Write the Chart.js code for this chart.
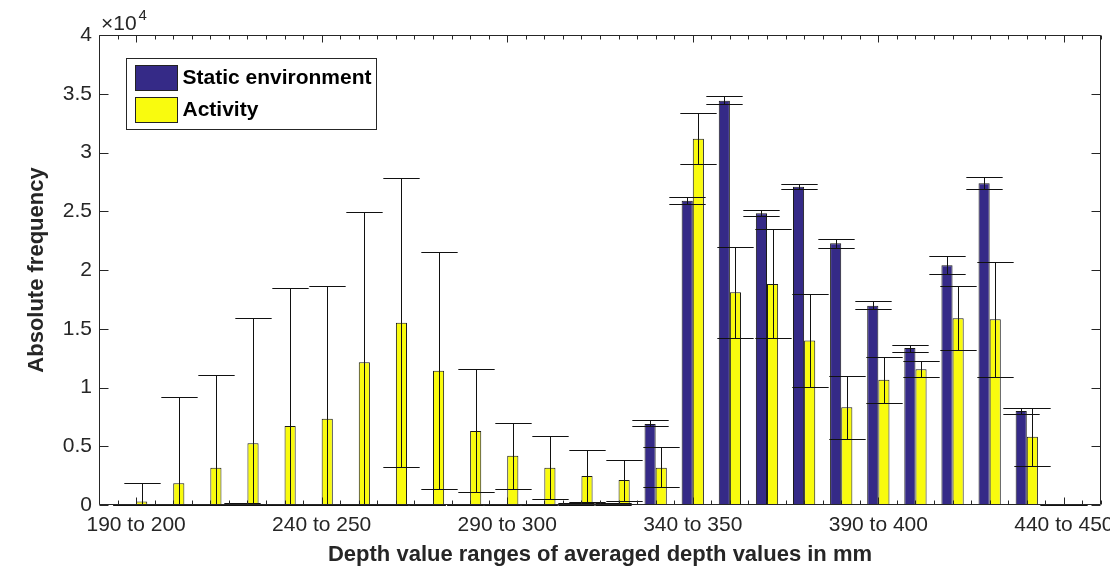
<!DOCTYPE html>
<html>
<head>
<meta charset="utf-8">
<script src="https://cdn.jsdelivr.net/npm/chart.js@4.4.1/dist/chart.umd.min.js"></script>
<style>
  html, body { margin: 0; padding: 0; background: #fff; }
  #wrap { width: 1110px; height: 569px; }
</style>
</head>
<body>
<div id="wrap"><canvas id="depthChart" width="1110" height="569"></canvas></div>
<script>
const categories = [
    '190 to 200', '200 to 210', '210 to 220', '220 to 230', '230 to 240', '240 to 250',
    '250 to 260', '260 to 270', '270 to 280', '280 to 290', '290 to 300', '300 to 310',
    '310 to 320', '320 to 330', '330 to 340', '340 to 350', '350 to 360', '360 to 370',
    '370 to 380', '380 to 390', '390 to 400', '400 to 410', '410 to 420', '420 to 430',
    '430 to 440', '440 to 450'
];
// positions (1-based) that get a label on the x axis
const labelledTicks = [1, 6, 11, 16, 21, 26];

const staticValues = [0, 0, 0, 100, 0, 0, 0, 0, 0, 0, 0, 0, 100, 100, 6890, 25900, 34410, 24820, 27090, 22270, 16960, 13360, 20400, 27380, 8000, 60];
const staticLow    = [0, 0, 0, 0, 0, 0, 0, 0, 0, 0, 0, 0, 0, 0, 6720, 25620, 34100, 24570, 26890, 21900, 16650, 13050, 19630, 26890, 7770, 0];
const staticHigh   = [0, 0, 0, 200, 0, 0, 0, 0, 0, 0, 0, 0, 200, 200, 7200, 26210, 34780, 25080, 27350, 22670, 17330, 13650, 21190, 27890, 8230, 120];

const activityValues = [300, 1850, 3180, 5250, 6720, 7350, 12140, 15520, 11430, 6300, 4200, 3180, 2470, 2130, 3180, 31170, 18100, 18810, 14010, 8310, 10670, 11550, 15890, 15800, 5810, 30];
const activityLow    = [0, 0, 0, 0, 0, 0, 0, 3200, 1360, 1080, 1360, 510, 280, 370, 1500, 29000, 14180, 14180, 10070, 5590, 8680, 10870, 13170, 10920, 3350, 0];
const activityHigh   = [1900, 9200, 11100, 15900, 18470, 18670, 24900, 27850, 21500, 11550, 7000, 5870, 4650, 3830, 4900, 33390, 21990, 23460, 17960, 11000, 12630, 12280, 18610, 20650, 8230, 60];

const errorRanges = [[staticLow, staticHigh], [activityLow, activityHigh]];

const textColor = '#262626';
Chart.defaults.font.family = '"Liberation Sans", Arial, Helvetica, sans-serif';
Chart.defaults.color = textColor;

function toPoints(values) {
    return values.map((v, i) => ({ x: i + 1, y: v }));
}

// error bars with wide caps, like matlab errorbar()
const errorBars = {
    id: 'errorBars',
    afterDatasetsDraw(chart) {
        const { ctx, chartArea: a, scales: { x, y } } = chart;
        const half = (x.getPixelForValue(1) - x.getPixelForValue(0)) * 0.49;
        ctx.save();
        ctx.beginPath();
        ctx.rect(a.left, a.top, a.width, a.height + 1);
        ctx.clip();
        ctx.strokeStyle = '#111';
        ctx.lineWidth = 1;
        chart.data.datasets.forEach((ds, di) => {
            const [low, high] = errorRanges[di];
            chart.getDatasetMeta(di).data.forEach((bar, i) => {
                const cx = Math.round(bar.x) + 0.5;
                const lo = Math.round(y.getPixelForValue(low[i])) + 0.5;
                const hi = Math.round(y.getPixelForValue(high[i])) + 0.5;
                ctx.beginPath();
                ctx.moveTo(cx, lo); ctx.lineTo(cx, hi);
                ctx.moveTo(cx - half, lo); ctx.lineTo(cx + half, lo);
                ctx.moveTo(cx - half, hi); ctx.lineTo(cx + half, hi);
                ctx.stroke();
            });
        });
        ctx.restore();
    }
};

// box, inward ticks and the x10^4 exponent
const matlabAxes = {
    id: 'matlabAxes',
    afterDraw(chart) {
        const { ctx, chartArea: a, scales: { x, y } } = chart;
        ctx.save();
        ctx.strokeStyle = textColor;
        ctx.lineWidth = 1;
        ctx.beginPath();
        const L = Math.round(a.left) + 0.5, R = Math.round(a.right) - 0.5;
        const T = Math.round(a.top) + 0.5, B = Math.round(a.bottom) - 0.5;
        ctx.rect(L, T, R - L, B - T);
        y.ticks.forEach(t => {
            const py = Math.round(y.getPixelForValue(t.value)) + 0.5;
            ctx.moveTo(L, py); ctx.lineTo(L + 9, py);
            ctx.moveTo(R, py); ctx.lineTo(R - 9, py);
        });
        for (let k = 0; k <= x.max * 2; k++) {
            const v = k / 2;
            const len = labelledTicks.includes(v) ? 7 : 4;
            const px = Math.round(x.getPixelForValue(v)) + 0.5;
            ctx.moveTo(px, B); ctx.lineTo(px, B - len);
            ctx.moveTo(px, T); ctx.lineTo(px, T + len);
        }
        ctx.stroke();

        ctx.fillStyle = textColor;
        ctx.textBaseline = 'alphabetic';
        ctx.font = '21px "Liberation Sans", Arial, sans-serif';
        ctx.fillText('\u00d710', a.left + 2, 30);
        const w = ctx.measureText('\u00d710').width;
        ctx.font = '15px "Liberation Sans", Arial, sans-serif';
        ctx.fillText('4', a.left + 4 + w, 20);
        ctx.restore();
    }
};

const legendBox = {
    id: 'legendBox',
    afterDraw(chart) {
        const { ctx, chartArea: a } = chart;
        const x0 = Math.round(a.left) + 27.5, y0 = Math.round(a.top) + 23.5;
        ctx.save();
        ctx.font = 'bold 21px "Liberation Sans", Arial, sans-serif';
        const textW = Math.max(...chart.data.datasets.map(d => ctx.measureText(d.label).width));
        const w = Math.round(56 + textW + 5), h = 71;
        ctx.fillStyle = '#fff';
        ctx.fillRect(x0, y0, w, h);
        ctx.strokeStyle = textColor;
        ctx.lineWidth = 1;
        ctx.strokeRect(x0, y0, w, h);
        chart.data.datasets.forEach((ds, i) => {
            const py = y0 + 7 + i * 32;
            ctx.fillStyle = ds.backgroundColor;
            ctx.fillRect(x0 + 9, py, 42, 25);
            ctx.strokeStyle = '#222';
            ctx.strokeRect(x0 + 9, py, 42, 25);
            ctx.fillStyle = '#000';
            ctx.textBaseline = 'middle';
            ctx.fillText(ds.label, x0 + 56, py + 13);
        });
        ctx.restore();
    }
};

const depthChart = new Chart(document.getElementById('depthChart'), {
    type: 'bar',
    data: {
        datasets: [
            {
                label: 'Static environment',
                data: toPoints(staticValues),
                backgroundColor: '#352A87',
                borderColor: '#1a1a1a',
                borderWidth: 1,
                borderSkipped: false
            },
            {
                label: 'Activity',
                data: toPoints(activityValues),
                backgroundColor: '#F9FB0E',
                borderColor: '#1a1a1a',
                borderWidth: 1,
                borderSkipped: false
            }
        ]
    },
    options: {
        responsive: false,
        animation: false,
        categoryPercentage: 0.6,
        barPercentage: 1.0,
        layout: { padding: { top: 35, right: 9, left: 0, bottom: 0 } },
        plugins: {
            legend: { display: false },
            tooltip: { enabled: false }
        },
        scales: {
            x: {
                type: 'linear',
                offset: false,
                min: 0,
                max: 27,
                grid: { display: false, drawTicks: false, offset: false },
                border: { display: false },
                afterBuildTicks: scale => {
                    scale.ticks = labelledTicks.map(v => ({ value: v }));
                },
                afterFit: scale => {
                    scale.height = 64;
                    scale.paddingLeft = 0;
                    scale.paddingRight = 0;
                },
                ticks: {
                    autoSkip: false,
                    maxRotation: 0,
                    padding: 8,
                    font: { size: 21 },
                    color: textColor,
                    callback: value => categories[value - 1]
                },
                title: {
                    display: true,
                    text: 'Depth value ranges of averaged depth values in mm',
                    font: { size: 22, weight: 'bold' },
                    color: textColor,
                    padding: { top: 0, bottom: 1 }
                }
            },
            y: {
                min: 0,
                max: 40000,
                grid: { display: false, drawTicks: false },
                border: { display: false },
                afterFit: scale => {
                    scale.width = 99;
                    scale.paddingTop = 0;
                    scale.paddingBottom = 0;
                },
                ticks: {
                    stepSize: 5000,
                    padding: 7,
                    font: { size: 21 },
                    color: textColor,
                    callback: value => String(value / 10000)
                },
                title: {
                    display: true,
                    text: 'Absolute frequency',
                    font: { size: 22, weight: 'bold' },
                    color: textColor,
                    padding: { top: 24, bottom: 0 }
                }
            }
        }
    },
    plugins: [errorBars, matlabAxes, legendBox]
});
</script>
</body>
</html>
